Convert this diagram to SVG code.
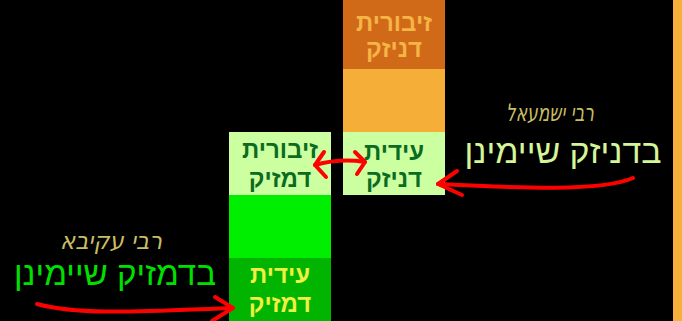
<svg xmlns="http://www.w3.org/2000/svg" width="682" height="321" viewBox="0 0 682 321">
<style>
.bx{font-family:"Liberation Sans","DejaVu Sans",sans-serif;font-weight:bold;font-size:24px;text-anchor:middle}
.cur{font-family:"DejaVu Sans","Liberation Sans",sans-serif;font-style:italic;font-size:24px;fill:#C8BE64;text-anchor:middle}
.big{font-family:"Liberation Sans","DejaVu Sans",sans-serif;font-size:33px;text-anchor:middle}
.arr{fill:none;stroke:#FF0000;stroke-width:4;stroke-linecap:round;stroke-linejoin:round}
</style>
<rect x="0" y="0" width="682" height="321" fill="#000000"/>
<rect x="673" y="0" width="9" height="321" fill="#F5AF3A"/>
<g id="zivurit-dnizak">
<rect x="343" y="0" width="102" height="69" fill="#D06A18"/>
<text class="bx" x="394" y="31" fill="#F5B446">זיבורית</text>
<text class="bx" x="394" y="57" fill="#F5B446">דניזק</text>
</g>
<g id="beinonit-dnizak">
<rect x="343" y="69" width="102" height="63" fill="#F5AF38"/>
</g>
<g id="idit-dnizak">
<rect x="343" y="132" width="102" height="63" fill="#CCFFA0"/>
<text class="bx" x="394" y="160" fill="#0B6B1E">עידית</text>
<text class="bx" x="394" y="187" fill="#0B6B1E">דניזק</text>
</g>
<g id="zivurit-dmazik">
<rect x="229" y="132" width="102" height="63" fill="#CCFFA0"/>
<text class="bx" x="280" y="158" fill="#0B6B1E">זיבורית</text>
<text class="bx" x="280" y="187" fill="#0B6B1E">דמזיק</text>
</g>
<g id="beinonit-dmazik">
<rect x="229" y="195" width="102" height="63" fill="#00EE00"/>
</g>
<g id="idit-dmazik">
<rect x="229" y="258" width="102" height="63" fill="#00B400"/>
<text class="bx" x="280" y="283" fill="#F0F040">עידית</text>
<text class="bx" x="280" y="312" fill="#F0F040">דמזיק</text>
</g>
<g id="label-yishmael">
<text class="cur" x="550" y="121" textLength="88" lengthAdjust="spacingAndGlyphs">רבי ישמעאל</text>
<text class="big" x="563" y="163" fill="#D4F598" textLength="197" lengthAdjust="spacingAndGlyphs">בדניזק שיימינן</text>
</g>
<g id="label-akiva">
<text class="cur" x="111" y="249" textLength="102" lengthAdjust="spacingAndGlyphs">רבי עקיבא</text>
<text class="big" x="115" y="285" fill="#00E000" textLength="202" lengthAdjust="spacingAndGlyphs">בדמזיק שיימינן</text>
</g>
<g id="connectors">
<path class="arr" d="M633,178 C600,192 520,188 438,184"/>
<path class="arr" d="M457,171 L438,184 L462,195"/>
<path class="arr" d="M37,304 C80,316 150,311 233,308"/>
<path class="arr" d="M215,297 L233,308 L212,321"/>
<path class="arr" d="M315,165 Q340,158 365,162"/>
<path class="arr" d="M324,152 L315,165 L326,177"/>
<path class="arr" d="M355,152 L365,162 L357,174"/>
</g>
</svg>
